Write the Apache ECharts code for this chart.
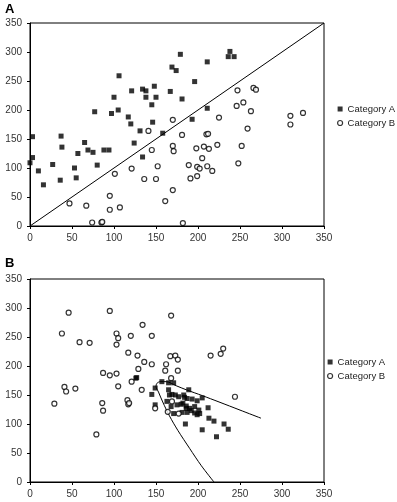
<!DOCTYPE html>
<html>
<head>
<meta charset="utf-8">
<script src="https://cdn.jsdelivr.net/npm/echarts@6/dist/echarts.min.js"></script>
<style>
  html, body { margin: 0; padding: 0; background: #fff; }
  #chart { width: 397px; height: 502px; }
</style>
</head>
<body>
<div id="chart"></div>
<script>
// axis ticks shared by all four axes
const axisTicks = [0, 50, 100, 150, 200, 250, 300, 350];

// panel A
const panelA_catA = [
  [106, 259], [169, 274], [174, 268], [121, 233], [134, 236], [138, 233], [148, 241], [167, 232],
  [100, 222], [138, 222], [150, 222], [145, 209], [105, 200], [77, 197], [97, 194], [117, 188],
  [120, 176], [146, 179], [131, 164], [158, 160], [3, 154], [37, 155], [38, 136], [65, 144],
  [69, 131], [75, 127], [88, 131], [94, 131], [57, 125], [124, 143], [134, 119], [80, 105],
  [3, 118], [0, 109], [27, 106], [53, 100], [10, 95], [55, 83], [36, 79], [16, 71],
  [179, 296], [238, 301], [236, 292], [243, 292], [211, 283], [196, 249], [181, 219], [211, 203],
  [193, 184]
];
const panelA_catB = [
  [141, 164], [170, 183], [170, 138], [171, 129], [145, 131], [152, 103], [121, 99], [101, 90],
  [136, 81], [150, 81], [170, 62], [161, 43], [47, 39], [95, 52], [67, 35], [95, 28],
  [107, 32], [74, 6], [85, 6], [86, 7], [182, 5], [247, 234], [266, 238], [269, 235],
  [254, 213], [246, 207], [263, 198], [225, 187], [259, 168], [310, 190], [325, 195], [310, 175],
  [181, 157], [210, 158], [212, 159], [198, 134], [207, 137], [213, 133], [223, 140], [252, 138],
  [205, 117], [189, 105], [199, 102], [202, 99], [211, 103], [217, 95], [248, 108], [191, 82],
  [199, 86]
];
const panelA_line = [[0, 0], [350, 350]];

// panel B
const panelB_catA = [
  [126, 179], [127, 180], [149, 162], [145, 151], [149, 133], [157, 173], [165, 171], [171, 171],
  [165, 159], [169, 151], [177, 147], [183, 150], [189, 159], [187, 144], [193, 143], [199, 140],
  [205, 145], [163, 139], [168, 130], [175, 133], [182, 136], [186, 131], [190, 127], [196, 130],
  [201, 124], [212, 128], [171, 118], [181, 120], [187, 120], [192, 123], [199, 116], [202, 118],
  [185, 100], [205, 90], [213, 110], [219, 105], [231, 100], [236, 91], [222, 78], [166, 150],
  [173, 150], [180, 134], [186, 127], [184, 146], [196, 119]
];
const panelB_catB = [
  [46, 292], [95, 295], [38, 256], [59, 241], [71, 240], [103, 256], [105, 248], [103, 237],
  [120, 252], [134, 271], [145, 252], [117, 223], [128, 218], [136, 207], [145, 203], [129, 195],
  [87, 188], [95, 184], [103, 187], [105, 165], [121, 173], [133, 159], [41, 164], [43, 156],
  [54, 161], [29, 135], [86, 136], [87, 123], [79, 82], [116, 141], [117, 134], [118, 136],
  [149, 127], [168, 287], [162, 203], [167, 217], [173, 218], [176, 211], [161, 192], [176, 192],
  [215, 218], [227, 221], [230, 230], [168, 179], [244, 147], [169, 139], [164, 121], [177, 118]
];
const panelB_curve = [
  [219, 0], [204, 28], [190, 58], [176, 89], [166, 114], [158, 138], [153, 155], [150, 165],
  [151, 170], [155, 173], [162, 173], [174, 166], [186, 159], [205, 149], [225, 138], [250, 124],
  [275, 110]
];

const font = 'Liberation Sans, Arial, sans-serif';
const labelColor = '#333';

function valueAxis(gridIndex, isX) {
  return {
    type: 'value',
    gridIndex: gridIndex,
    min: axisTicks[0],
    max: axisTicks[axisTicks.length - 1],
    interval: axisTicks[1] - axisTicks[0],
    splitLine: { show: false },
    axisLine: { show: true, lineStyle: { color: '#000', width: 1 } },
    axisTick: { show: true, length: 3, lineStyle: { color: '#000' } },
    axisLabel: {
      color: labelColor,
      fontFamily: font,
      fontSize: 10,
      margin: isX ? 7 : 8
    }
  };
}

function scatter(name, data, idx, symbol) {
  return {
    name: name,
    type: 'scatter',
    xAxisIndex: idx,
    yAxisIndex: idx,
    data: data,
    symbol: symbol,
    symbolSize: 5,
    itemStyle: symbol === 'rect'
      ? { color: '#000' }
      : { color: '#fff', borderColor: '#000', borderWidth: 1.2 },
    emphasis: { disabled: true },
    z: 3
  };
}

function line(data, idx, smooth) {
  return {
    type: 'line',
    xAxisIndex: idx,
    yAxisIndex: idx,
    data: data,
    smooth: smooth,
    showSymbol: false,
    lineStyle: { color: '#000', width: 1 },
    emphasis: { disabled: true },
    z: 2
  };
}

const legendBase = {
  orient: 'vertical',
  itemWidth: 5,
  itemHeight: 5,
  itemGap: 2,
  padding: 0,
  selectedMode: false,
  textStyle: { color: '#222', fontFamily: font, fontSize: 9.5, lineHeight: 12, width: 60, overflow: 'none' },
  data: [
    { name: 'Category A', icon: 'rect', itemStyle: { color: '#000' } },
    { name: 'Category B', icon: 'circle', itemStyle: { color: '#fff', borderColor: '#000', borderWidth: 1.2 } }
  ]
};

const option = {
  animation: false,
  backgroundColor: '#fff',
  title: [
    { text: 'A', left: 0, top: -2, textStyle: { fontFamily: font, fontSize: 13, fontWeight: 'bold', color: '#000' } },
    { text: 'B', left: 0, top: 252, textStyle: { fontFamily: font, fontSize: 13, fontWeight: 'bold', color: '#000' } }
  ],
  legend: [
    Object.assign({}, legendBase, { left: 337, top: 103 }),
    Object.assign({}, legendBase, { left: 327, top: 356 })
  ],
  grid: [
    { left: 30, top: 23, width: 294, height: 203, show: true, borderColor: '#000', borderWidth: 1, backgroundColor: 'transparent' },
    { left: 30, top: 279, width: 294, height: 203, show: true, borderColor: '#000', borderWidth: 1, backgroundColor: 'transparent' }
  ],
  xAxis: [valueAxis(0, true), valueAxis(1, true)],
  yAxis: [valueAxis(0, false), valueAxis(1, false)],
  series: [
    line(panelA_line, 0, false),
    scatter('Category A', panelA_catA, 0, 'rect'),
    scatter('Category B', panelA_catB, 0, 'circle'),
    line(panelB_curve, 1, 0.3),
    scatter('Category A', panelB_catA, 1, 'rect'),
    scatter('Category B', panelB_catB, 1, 'circle')
  ]
};

const myChart = echarts.init(document.getElementById('chart'));
myChart.setOption(option);
</script>
</body>
</html>
